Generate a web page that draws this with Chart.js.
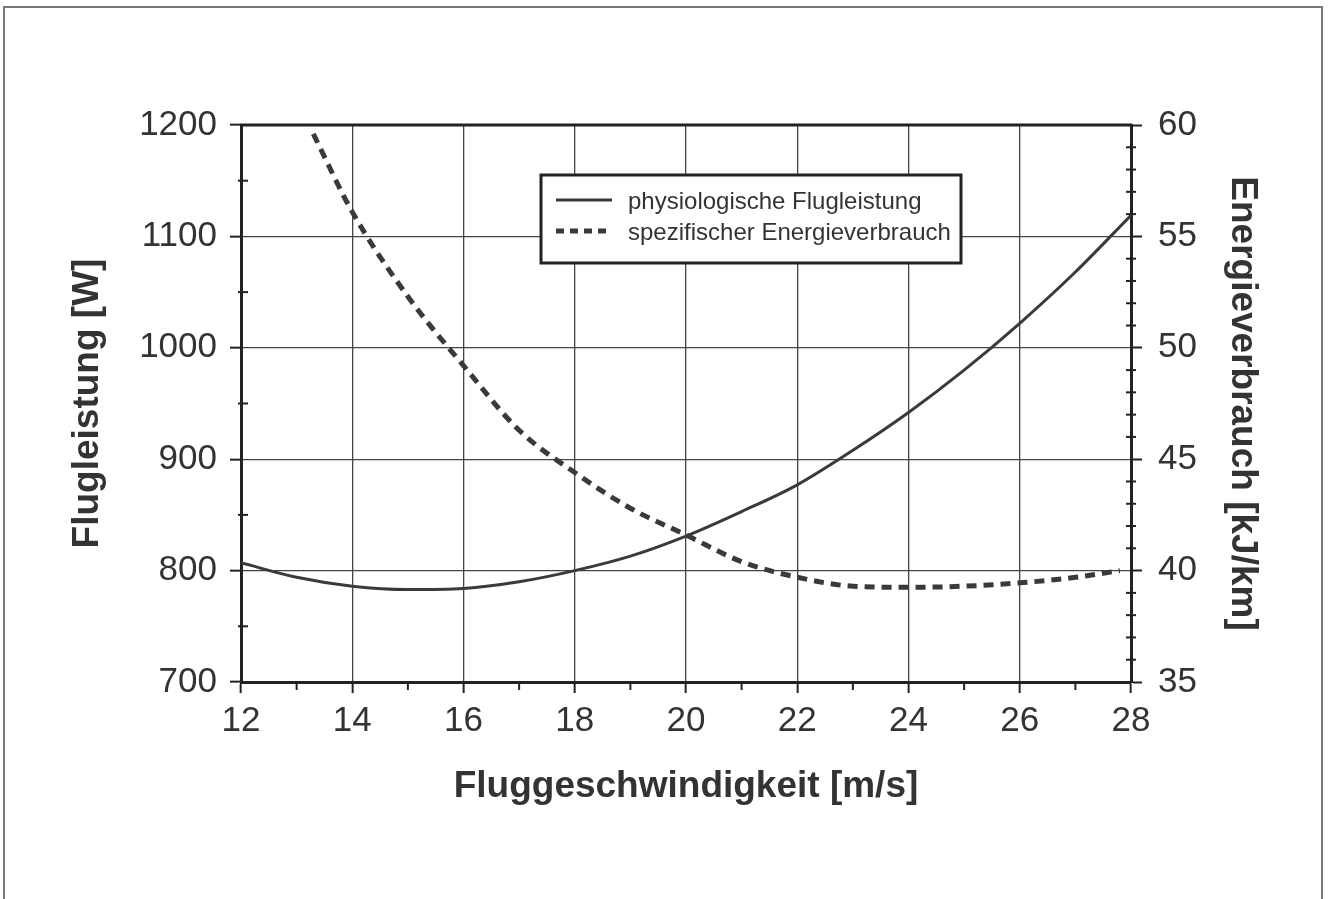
<!DOCTYPE html>
<html>
<head>
<meta charset="utf-8">
<script src="https://cdn.jsdelivr.net/npm/chart.js@4/dist/chart.umd.min.js"></script>
<style>
  html, body { margin: 0; padding: 0; background: #fff; }
  #wrap { position: relative; width: 1328px; height: 899px; }
  #frame {
    position: absolute; left: 3px; top: 6px; width: 1320px; height: 893px;
    border-left: 2px solid #777; border-top: 2px solid #777; border-right: 2px solid #777;
    box-sizing: border-box; pointer-events: none;
  }
  canvas { position: absolute; left: 0; top: 0; }
</style>
</head>
<body>
<div id="wrap">
  <canvas id="chart" width="1328" height="899"></canvas>
  <div id="frame"></div>
</div>
<script>
// Flight speed [m/s] and physiological flight power [W]
const speedPower = [12, 13, 14, 15, 16, 17, 18, 19, 20, 21, 22, 23, 24, 25, 26, 27, 28];
const power = [807, 794, 786, 783, 784, 790, 800, 813, 831, 853, 877, 908, 942, 980, 1022, 1068, 1119];

// Flight speed [m/s] and specific energy consumption [kJ/km]
const speedEnergy = [13.3, 14, 15, 16, 17, 18, 19, 20, 21, 22, 23, 24, 25, 26, 27, 27.8];
const energy = [59.6, 56.1, 52.3, 49.2, 46.3, 44.4, 42.8, 41.6, 40.4, 39.7, 39.3, 39.25, 39.3, 39.45, 39.7, 40.0];

const seriesLabels = ['physiologische Flugleistung', 'spezifischer Energieverbrauch'];
const xTitle = 'Fluggeschwindigkeit [m/s]';
const yLeftTitle = 'Flugleistung [W]';
const yRightTitle = 'Energieverbrauch [kJ/km]';

const ink = '#333';
const FONT = "'Liberation Sans', Arial, sans-serif";

// small tick marks between the labelled ones, plus the heavy frame line on top
const frameAndMinorTicks = {
  id: 'frameAndMinorTicks',
  afterDraw(chart) {
    const ctx = chart.ctx;
    const a = chart.chartArea;
    const sx = chart.scales.x, yl = chart.scales.y, yr = chart.scales.y1;
    ctx.save();
    ctx.strokeStyle = '#222';
    ctx.lineWidth = 2;
    for (let v = 13; v < 28; v += 2) {
      const px = sx.getPixelForValue(v);
      ctx.beginPath(); ctx.moveTo(px, a.bottom); ctx.lineTo(px, a.bottom + 8); ctx.stroke();
    }
    for (let v = 750; v < 1200; v += 100) {
      const py = yl.getPixelForValue(v);
      ctx.beginPath(); ctx.moveTo(a.left - 3, py); ctx.lineTo(a.left + 7, py); ctx.stroke();
    }
    for (let v = 36; v < 60; v++) {
      if (v % 5 === 0) continue;
      const py = yr.getPixelForValue(v);
      ctx.beginPath(); ctx.moveTo(a.right - 5, py); ctx.lineTo(a.right + 5, py); ctx.stroke();
    }
    ctx.lineWidth = 3;
    ctx.beginPath(); ctx.moveTo(a.left - 1, a.top); ctx.lineTo(a.right + 1, a.top); ctx.stroke();
    ctx.restore();
  }
};

// boxed legend inside the plot
const boxLegend = {
  id: 'boxLegend',
  afterDraw(chart) {
    const ctx = chart.ctx;
    const x0 = 541, y0 = 175, w = 420, h = 88;
    ctx.save();
    ctx.fillStyle = '#fff';
    ctx.fillRect(x0, y0, w, h);
    ctx.strokeStyle = '#222';
    ctx.lineWidth = 3;
    ctx.strokeRect(x0, y0, w, h);
    chart.data.datasets.forEach((ds, i) => {
      const y = y0 + 25 + i * 31;
      ctx.strokeStyle = ds.borderColor;
      ctx.lineWidth = ds.borderWidth;
      ctx.setLineDash(i === 1 ? [8, 6] : []);
      ctx.beginPath(); ctx.moveTo(556, y); ctx.lineTo(612, y); ctx.stroke();
      ctx.setLineDash([]);
      ctx.fillStyle = ink;
      ctx.font = '24px ' + FONT;
      ctx.textBaseline = 'middle';
      ctx.fillText(ds.label, 628, y + 2);
    });
    ctx.restore();
  }
};

const toPoints = (xs, ys) => xs.map((x, i) => ({ x, y: ys[i] }));
const plain = v => String(v);

new Chart(document.getElementById('chart'), {
  type: 'line',
  data: {
    datasets: [
      {
        label: seriesLabels[0],
        data: toPoints(speedPower, power),
        yAxisID: 'y',
        borderColor: '#3a3a3a',
        borderWidth: 3,
        pointRadius: 0,
        cubicInterpolationMode: 'monotone',
        fill: false
      },
      {
        label: seriesLabels[1],
        data: toPoints(speedEnergy, energy),
        yAxisID: 'y1',
        borderColor: '#3a3a3a',
        borderWidth: 5,
        borderDash: [10, 7],
        pointRadius: 0,
        cubicInterpolationMode: 'monotone',
        fill: false
      }
    ]
  },
  options: {
    responsive: false,
    animation: false,
    layout: { padding: { top: 125, left: 0, right: 0, bottom: 0 } },
    plugins: { legend: { display: false }, tooltip: { enabled: false } },
    scales: {
      x: {
        type: 'linear', min: 12, max: 28,
        afterFit: s => { s.height = 217; },
        ticks: { stepSize: 2, callback: plain, color: ink, padding: 7, font: { family: FONT, size: 35 } },
        grid: { color: '#444', lineWidth: 1.3, tickLength: 11, tickColor: '#222', tickWidth: 2 },
        border: { color: '#222', width: 3 },
        title: { display: true, text: xTitle, color: ink, padding: { bottom: 90 },
                 font: { family: FONT, size: 37, weight: 'bold' } }
      },
      y: {
        position: 'left', min: 700, max: 1200,
        afterFit: s => { s.width = 241; },
        ticks: { stepSize: 100, callback: plain, color: ink, padding: 13, font: { family: FONT, size: 35 } },
        grid: { color: '#444', lineWidth: 1.3, tickLength: 11, tickColor: '#222', tickWidth: 2 },
        border: { color: '#222', width: 3 },
        title: { display: true, text: yLeftTitle, color: ink, padding: { top: 66 },
                 font: { family: FONT, size: 37, weight: 'bold' } }
      },
      y1: {
        position: 'right', min: 35, max: 60,
        afterFit: s => { s.width = 197; },
        ticks: { stepSize: 5, callback: plain, color: ink, padding: 16, font: { family: FONT, size: 35 } },
        grid: { drawOnChartArea: false, tickLength: 11, tickColor: '#222', tickWidth: 2 },
        border: { color: '#222', width: 3 },
        title: { display: true, text: yRightTitle, color: ink, padding: { top: 64 },
                 font: { family: FONT, size: 37, weight: 'bold' } }
      }
    }
  },
  plugins: [frameAndMinorTicks, boxLegend]
});
</script>
</body>
</html>
